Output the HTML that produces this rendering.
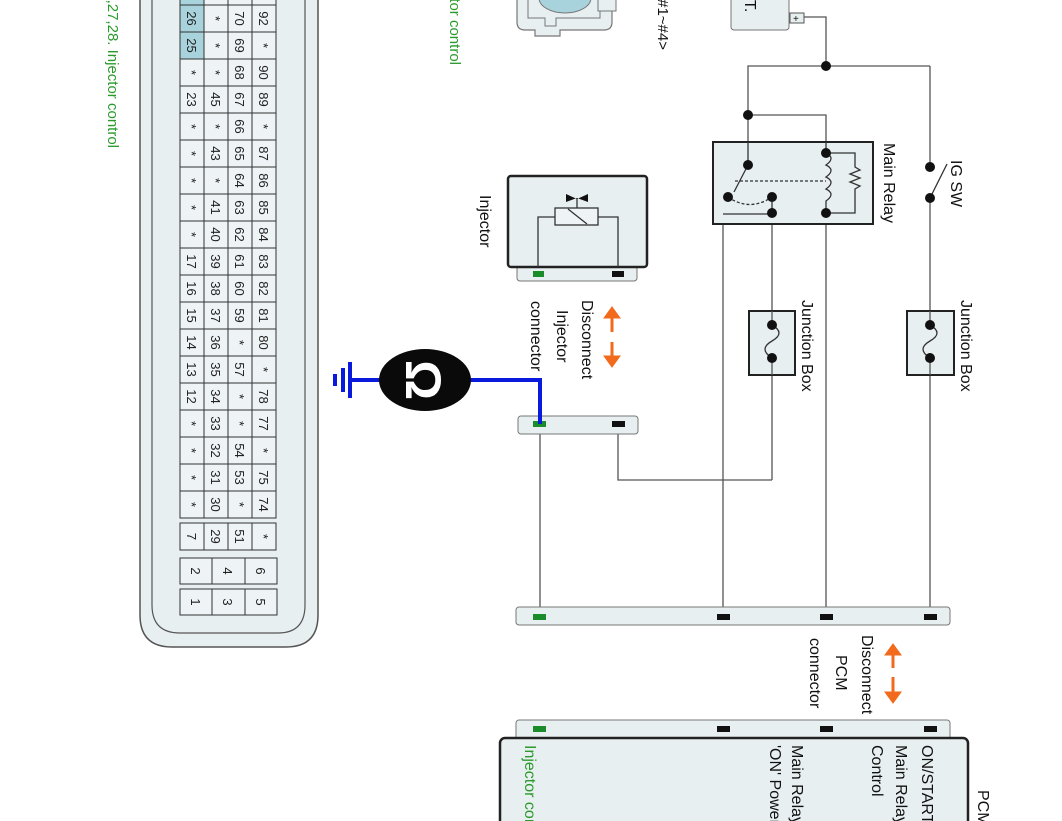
<!DOCTYPE html>
<html><head><meta charset="utf-8"><style>
html,body{margin:0;padding:0;background:#fff;}
svg{display:block;}
text{font-family:"Liberation Sans",Arial,sans-serif;}
</style></head><body>
<svg width="1062" height="821" viewBox="0 0 1062 821" xmlns="http://www.w3.org/2000/svg">
<path d="M140,-5 V615 Q140,647 172,647 H286 Q318,647 318,615 V-5" fill="#e8eff1" stroke="#555" stroke-width="1.5"/>
<path d="M152,-5 V605 Q152,633 180,633 H278 Q305,633 305,605 V-5" fill="#e8eff1" stroke="#555" stroke-width="1.2"/>
<rect x="180" y="-22" width="96" height="540" fill="#eef3f5" stroke="#333"/>
<rect x="180" y="-22" width="24" height="81" fill="#a9d3dc" stroke="#333"/>
<g stroke="#333" stroke-width="1">
<line x1="204" y1="-22" x2="204" y2="518"/><line x1="228" y1="-22" x2="228" y2="518"/><line x1="252" y1="-22" x2="252" y2="518"/>
<line x1="180" y1="5" x2="276" y2="5"/><line x1="180" y1="32" x2="276" y2="32"/><line x1="180" y1="59" x2="276" y2="59"/>
<line x1="180" y1="86" x2="276" y2="86"/><line x1="180" y1="113" x2="276" y2="113"/><line x1="180" y1="140" x2="276" y2="140"/>
<line x1="180" y1="167" x2="276" y2="167"/><line x1="180" y1="194" x2="276" y2="194"/><line x1="180" y1="221" x2="276" y2="221"/>
<line x1="180" y1="248" x2="276" y2="248"/><line x1="180" y1="275" x2="276" y2="275"/><line x1="180" y1="302" x2="276" y2="302"/>
<line x1="180" y1="329" x2="276" y2="329"/><line x1="180" y1="356" x2="276" y2="356"/><line x1="180" y1="383" x2="276" y2="383"/>
<line x1="180" y1="410" x2="276" y2="410"/><line x1="180" y1="437" x2="276" y2="437"/><line x1="180" y1="464" x2="276" y2="464"/>
<line x1="180" y1="491" x2="276" y2="491"/>
</g>
<rect x="180" y="523" width="96" height="27" fill="#eef3f5" stroke="#333"/>
<g stroke="#333"><line x1="204" y1="523" x2="204" y2="550"/><line x1="228" y1="523" x2="228" y2="550"/><line x1="252" y1="523" x2="252" y2="550"/></g>
<rect x="180" y="558" width="97" height="26" fill="#eef3f5" stroke="#333"/>
<rect x="180" y="589" width="97" height="26" fill="#eef3f5" stroke="#333"/>
<g stroke="#333"><line x1="212" y1="558" x2="212" y2="584"/><line x1="245" y1="558" x2="245" y2="584"/><line x1="212" y1="589" x2="212" y2="615"/><line x1="245" y1="589" x2="245" y2="615"/></g>
<g font-size="13" fill="#222" text-anchor="middle">
<text transform="translate(187,18.5) rotate(90)">26</text><text transform="translate(211,18.5) rotate(90)">*</text><text transform="translate(235,18.5) rotate(90)">70</text><text transform="translate(259,18.5) rotate(90)">92</text>
<text transform="translate(187,45.5) rotate(90)">25</text><text transform="translate(211,45.5) rotate(90)">*</text><text transform="translate(235,45.5) rotate(90)">69</text><text transform="translate(259,45.5) rotate(90)">*</text>
<text transform="translate(187,72.5) rotate(90)">*</text><text transform="translate(211,72.5) rotate(90)">*</text><text transform="translate(235,72.5) rotate(90)">68</text><text transform="translate(259,72.5) rotate(90)">90</text>
<text transform="translate(187,99.5) rotate(90)">23</text><text transform="translate(211,99.5) rotate(90)">45</text><text transform="translate(235,99.5) rotate(90)">67</text><text transform="translate(259,99.5) rotate(90)">89</text>
<text transform="translate(187,126.5) rotate(90)">*</text><text transform="translate(211,126.5) rotate(90)">*</text><text transform="translate(235,126.5) rotate(90)">66</text><text transform="translate(259,126.5) rotate(90)">*</text>
<text transform="translate(187,153.5) rotate(90)">*</text><text transform="translate(211,153.5) rotate(90)">43</text><text transform="translate(235,153.5) rotate(90)">65</text><text transform="translate(259,153.5) rotate(90)">87</text>
<text transform="translate(187,180.5) rotate(90)">*</text><text transform="translate(211,180.5) rotate(90)">*</text><text transform="translate(235,180.5) rotate(90)">64</text><text transform="translate(259,180.5) rotate(90)">86</text>
<text transform="translate(187,207.5) rotate(90)">*</text><text transform="translate(211,207.5) rotate(90)">41</text><text transform="translate(235,207.5) rotate(90)">63</text><text transform="translate(259,207.5) rotate(90)">85</text>
<text transform="translate(187,234.5) rotate(90)">*</text><text transform="translate(211,234.5) rotate(90)">40</text><text transform="translate(235,234.5) rotate(90)">62</text><text transform="translate(259,234.5) rotate(90)">84</text>
<text transform="translate(187,261.5) rotate(90)">17</text><text transform="translate(211,261.5) rotate(90)">39</text><text transform="translate(235,261.5) rotate(90)">61</text><text transform="translate(259,261.5) rotate(90)">83</text>
<text transform="translate(187,288.5) rotate(90)">16</text><text transform="translate(211,288.5) rotate(90)">38</text><text transform="translate(235,288.5) rotate(90)">60</text><text transform="translate(259,288.5) rotate(90)">82</text>
<text transform="translate(187,315.5) rotate(90)">15</text><text transform="translate(211,315.5) rotate(90)">37</text><text transform="translate(235,315.5) rotate(90)">59</text><text transform="translate(259,315.5) rotate(90)">81</text>
<text transform="translate(187,342.5) rotate(90)">14</text><text transform="translate(211,342.5) rotate(90)">36</text><text transform="translate(235,342.5) rotate(90)">*</text><text transform="translate(259,342.5) rotate(90)">80</text>
<text transform="translate(187,369.5) rotate(90)">13</text><text transform="translate(211,369.5) rotate(90)">35</text><text transform="translate(235,369.5) rotate(90)">57</text><text transform="translate(259,369.5) rotate(90)">*</text>
<text transform="translate(187,396.5) rotate(90)">12</text><text transform="translate(211,396.5) rotate(90)">34</text><text transform="translate(235,396.5) rotate(90)">*</text><text transform="translate(259,396.5) rotate(90)">78</text>
<text transform="translate(187,423.5) rotate(90)">*</text><text transform="translate(211,423.5) rotate(90)">33</text><text transform="translate(235,423.5) rotate(90)">*</text><text transform="translate(259,423.5) rotate(90)">77</text>
<text transform="translate(187,450.5) rotate(90)">*</text><text transform="translate(211,450.5) rotate(90)">32</text><text transform="translate(235,450.5) rotate(90)">54</text><text transform="translate(259,450.5) rotate(90)">*</text>
<text transform="translate(187,477.5) rotate(90)">*</text><text transform="translate(211,477.5) rotate(90)">31</text><text transform="translate(235,477.5) rotate(90)">53</text><text transform="translate(259,477.5) rotate(90)">75</text>
<text transform="translate(187,504.5) rotate(90)">*</text><text transform="translate(211,504.5) rotate(90)">30</text><text transform="translate(235,504.5) rotate(90)">*</text><text transform="translate(259,504.5) rotate(90)">74</text>
<text transform="translate(187,536.5) rotate(90)">7</text><text transform="translate(211,536.5) rotate(90)">29</text><text transform="translate(235,536.5) rotate(90)">51</text><text transform="translate(259,536.5) rotate(90)">*</text>
<text transform="translate(191,571) rotate(90)">2</text><text transform="translate(223,571) rotate(90)">4</text><text transform="translate(256,571) rotate(90)">6</text>
<text transform="translate(191,602) rotate(90)">1</text><text transform="translate(223,602) rotate(90)">3</text><text transform="translate(256,602) rotate(90)">5</text>
</g>
<text transform="translate(108,148) rotate(90)" text-anchor="end" font-size="15" fill="#2a9a2a">24,25,26,27,28. Injector control</text>
<text transform="translate(450,65) rotate(90)" text-anchor="end" font-size="15" fill="#2a9a2a">Injector control</text>

<path d="M517,-5 V22 Q517,30 525,30 H535 V36 H560 V30 H604 Q612,30 612,22 V-5" fill="#e8eff1" stroke="#777" stroke-width="1.2"/>
<path d="M528,-5 V18 H545 V26 H556 V18 H600 V-5" fill="none" stroke="#777" stroke-width="1"/>
<ellipse cx="565" cy="-2" rx="26" ry="15" fill="#a9d3dc" stroke="#777"/>
<rect x="598" y="-5" width="18" height="16" fill="#e8eff1" stroke="#777"/>
<text transform="translate(658,50) rotate(90)" text-anchor="end" font-size="15" fill="#111">Inj #1~#4&gt;</text>
<rect x="731" y="-10" width="58" height="40" rx="3" fill="#e8eff1" stroke="#777"/>
<text transform="translate(745,-30) rotate(90)" font-size="16" fill="#111">BATT.</text>
<rect x="790" y="13" width="14" height="10" fill="#e8eff1" stroke="#555"/>
<text x="793" y="22" font-size="10" fill="#111">+</text>

<g stroke="#555" stroke-width="1.3" fill="none">
<polyline points="804,17 826,17 826,66"/>
<polyline points="930,66 748,66 748,165"/>
<polyline points="748,115 826,115 826,153"/>
<line x1="930" y1="66" x2="930" y2="167"/>
<line x1="930" y1="198" x2="930" y2="617"/>
<polyline points="723,617 723,214 772,214"/>
<line x1="772" y1="213" x2="772" y2="480"/>
<polyline points="772,480 618,480 618,424"/>
<line x1="826" y1="213" x2="826" y2="617"/>
<line x1="540" y1="424" x2="540" y2="617"/>
</g>
<circle cx="826" cy="66" r="5" fill="#111"/>
<circle cx="748" cy="115" r="5" fill="#111"/>

<rect x="713" y="142" width="160" height="82" fill="#e8eff1" stroke="#222" stroke-width="2"/>
<g stroke="#333" stroke-width="1.3" fill="none">
<line x1="748" y1="142" x2="748" y2="165"/>
<line x1="826" y1="142" x2="826" y2="153"/>
<line x1="723" y1="214" x2="772" y2="214"/>
<line x1="748" y1="165" x2="734" y2="192"/>
<path d="M728,197 Q750,212 772,197" stroke-dasharray="3,2"/>
<line x1="735" y1="181" x2="826" y2="181" stroke-dasharray="3,2"/>
<path d="M826,153 q10,5 0,12 q10,5 0,12 q10,5 0,12 q10,5 0,12 V213"/>
<path d="M826,153 H855 V167 l5,3 l-10,4 l10,4 l-10,4 l10,4 l-5,3 V213 H826"/>
<line x1="772" y1="197" x2="772" y2="213"/>
</g>
<g fill="#111">
<circle cx="748" cy="165" r="5"/><circle cx="728" cy="197" r="5"/><circle cx="772" cy="197" r="5"/><circle cx="772" cy="213" r="5"/>
<circle cx="826" cy="153" r="5"/><circle cx="826" cy="213" r="5"/>
</g>
<text transform="translate(884,143) rotate(90)" font-size="16" fill="#111">Main Relay</text>
<line x1="930" y1="198" x2="947" y2="164" stroke="#333" stroke-width="1.3"/>
<circle cx="930" cy="167" r="5" fill="#111"/><circle cx="930" cy="198" r="5" fill="#111"/>
<text transform="translate(951,160) rotate(90)" font-size="16" fill="#111">IG SW</text>

<rect x="749" y="311" width="46" height="64" fill="#e8eff1" stroke="#222" stroke-width="2"/>
<path d="M772,325 Q786,333 772,341 Q758,349 772,358" fill="none" stroke="#333" stroke-width="1.3"/>
<line x1="772" y1="311" x2="772" y2="325" stroke="#555" stroke-width="1.3"/><line x1="772" y1="358" x2="772" y2="375" stroke="#555" stroke-width="1.3"/>
<circle cx="772" cy="325" r="5" fill="#111"/><circle cx="772" cy="358" r="5" fill="#111"/>
<text transform="translate(802,300) rotate(90)" font-size="16" fill="#111">Junction Box</text>
<rect x="907" y="311" width="47" height="64" fill="#e8eff1" stroke="#222" stroke-width="2"/>
<path d="M930,325 Q944,333 930,341 Q916,349 930,358" fill="none" stroke="#333" stroke-width="1.3"/>
<line x1="930" y1="311" x2="930" y2="325" stroke="#555" stroke-width="1.3"/><line x1="930" y1="358" x2="930" y2="375" stroke="#555" stroke-width="1.3"/>
<circle cx="930" cy="325" r="5" fill="#111"/><circle cx="930" cy="358" r="5" fill="#111"/>
<text transform="translate(961,300) rotate(90)" font-size="16" fill="#111">Junction Box</text>

<rect x="517" y="265" width="120" height="16" rx="3" fill="#e8eff1" stroke="#777"/>
<rect x="508" y="176" width="139" height="91" rx="3" fill="#e8eff1" stroke="#222" stroke-width="2.5"/>
<rect x="533" y="271" width="11" height="6" fill="#1a8c2a"/>
<rect x="612" y="271" width="12" height="6" fill="#111"/>
<g stroke="#333" stroke-width="1.3" fill="none">
<polyline points="538,267 538,217 555,217"/>
<polyline points="618,267 618,217 598,217"/>
<rect x="555" y="208" width="43" height="17" fill="#eef3f5"/>
<line x1="568" y1="209" x2="587" y2="224"/>
<line x1="577" y1="208" x2="577" y2="198"/>
</g>
<path d="M566,194 L577,199 L588,194 V202 L577,198 L566,202 Z" fill="#111"/>
<text transform="translate(480,195) rotate(90)" font-size="16" fill="#111">Injector</text>

<g fill="#f26a1b" stroke="#f26a1b">
<line x1="612" y1="316" x2="612" y2="332" stroke-width="3"/>
<line x1="612" y1="342" x2="612" y2="358" stroke-width="3"/>
<path d="M604,318 L612,307 L620,318 Z"/>
<path d="M604,356 L612,367 L620,356 Z"/>
</g>
<text transform="translate(582,300) rotate(90)" font-size="16" fill="#111">Disconnect</text>
<text transform="translate(557,310) rotate(90)" font-size="16" fill="#111">Injector</text>
<text transform="translate(531,301) rotate(90)" font-size="16" fill="#111">connector</text>
<rect x="518" y="416" width="120" height="18" rx="3" fill="#e8eff1" stroke="#777"/>
<rect x="533" y="421" width="13" height="6" fill="#1a8c2a"/>
<rect x="612" y="421" width="13" height="6" fill="#111"/>
<polyline points="540,424 540,380 470,380" fill="none" stroke="#0a1adc" stroke-width="4"/>
<line x1="380" y1="380" x2="349" y2="380" stroke="#0a1adc" stroke-width="4"/>
<line x1="350" y1="362" x2="350" y2="398" stroke="#0a1adc" stroke-width="4"/>
<line x1="343" y1="368" x2="343" y2="392" stroke="#0a1adc" stroke-width="4"/>
<line x1="335" y1="374" x2="335" y2="386" stroke="#0a1adc" stroke-width="4"/>
<ellipse cx="425" cy="380" rx="46" ry="31" fill="#0a0a0a"/>
<text transform="translate(406,380) rotate(90)" text-anchor="middle" font-size="50" font-weight="bold" fill="#fff">Ω</text>

<rect x="516" y="607" width="434" height="18" rx="3" fill="#e8eff1" stroke="#777"/>
<rect x="533" y="614" width="13" height="6" fill="#1a8c2a"/>
<rect x="717" y="614" width="13" height="6" fill="#111"/>
<rect x="820" y="614" width="13" height="6" fill="#111"/>
<rect x="924" y="614" width="13" height="6" fill="#111"/>
<g fill="#f26a1b" stroke="#f26a1b">
<line x1="893" y1="652" x2="893" y2="668" stroke-width="3"/>
<line x1="893" y1="677" x2="893" y2="694" stroke-width="3"/>
<path d="M885,655 L893,644 L901,655 Z"/>
<path d="M885,692 L893,703 L901,692 Z"/>
</g>
<text transform="translate(862,635) rotate(90)" font-size="16" fill="#111">Disconnect</text>
<text transform="translate(836,655) rotate(90)" font-size="16" fill="#111">PCM</text>
<text transform="translate(810,638) rotate(90)" font-size="16" fill="#111">connector</text>
<rect x="516" y="720" width="434" height="22" rx="3" fill="#e8eff1" stroke="#777"/>
<rect x="533" y="726" width="13" height="6" fill="#1a8c2a"/>
<rect x="717" y="726" width="13" height="6" fill="#111"/>
<rect x="820" y="726" width="13" height="6" fill="#111"/>
<rect x="924" y="726" width="13" height="6" fill="#111"/>
<rect x="500" y="738" width="468" height="100" rx="5" fill="#e8eff1" stroke="#222" stroke-width="2.5"/>
<text transform="translate(922,745) rotate(90)" font-size="16" fill="#111">ON/START</text>
<text transform="translate(896,745) rotate(90)" font-size="16" fill="#111">Main Relay</text>
<text transform="translate(872,745) rotate(90)" font-size="16" fill="#111">Control</text>
<text transform="translate(792,745) rotate(90)" font-size="16" fill="#111">Main Relay</text>
<text transform="translate(770,745) rotate(90)" font-size="16" fill="#111">'ON' Power</text>
<text transform="translate(525,745) rotate(90)" font-size="16" fill="#2a9a2a">Injector control</text>
<text transform="translate(978,790) rotate(90)" font-size="16" fill="#111">PCM</text>
</svg>
</body></html>
